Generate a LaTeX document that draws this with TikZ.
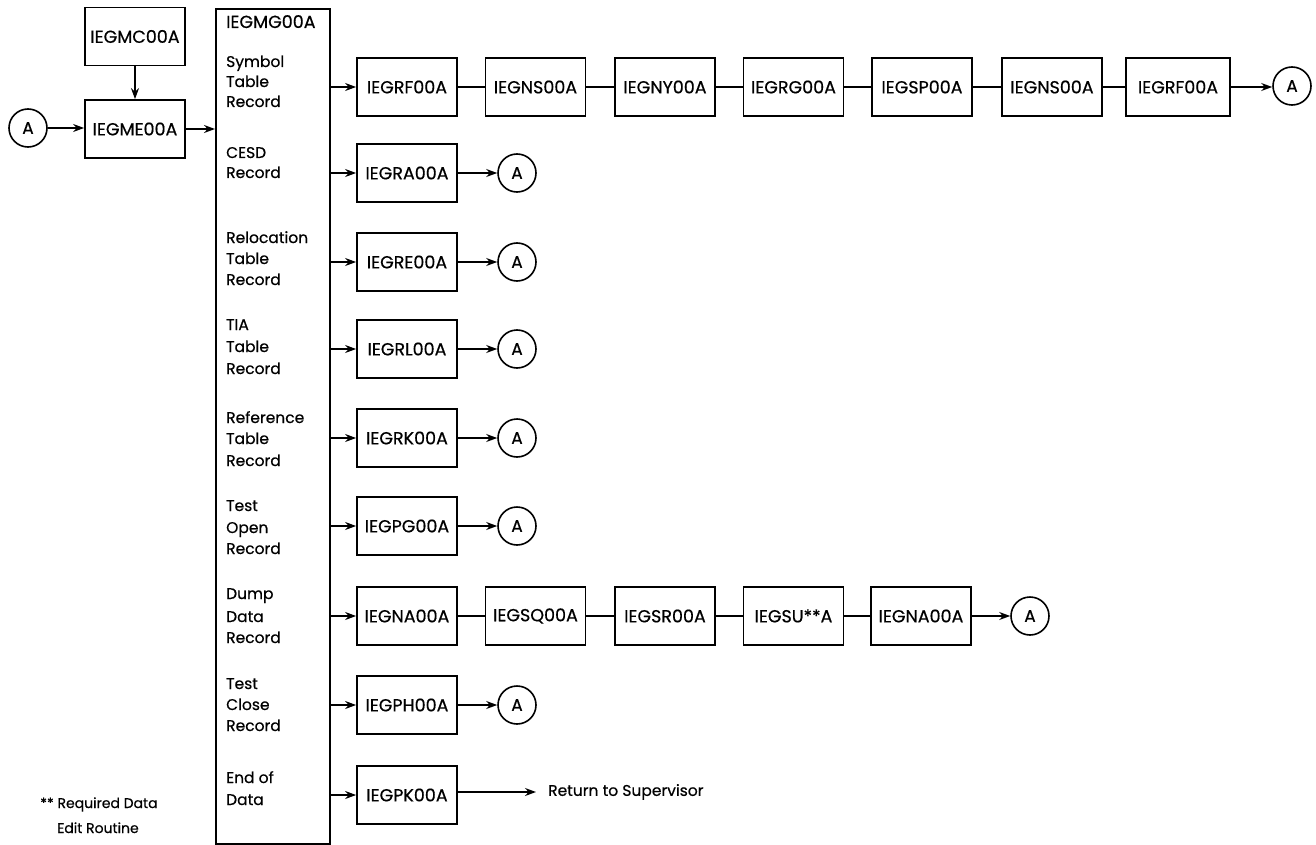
\documentclass[tikz,border=0pt]{standalone}
\usepackage{fontspec}
\setmainfont{Poppins}[FakeBold=0.5,AutoFakeBold=0.5]
\usetikzlibrary{arrows.meta}
\begin{document}
\begin{tikzpicture}[x=1pt,y=-1pt,
  every node/.style={font=\fontsize{15.5}{18}\selectfont},
  blk/.style={draw,line width=1.8pt,minimum width=100pt,minimum height=58pt,inner sep=0pt,
    font=\fontsize{17.5}{20}\selectfont},
  con/.style={draw,circle,line width=1.6pt,minimum size=38pt,inner sep=0pt,
    font=\fontsize{17}{20}\selectfont},
  lbl/.style={anchor=base west,inner sep=0pt},
  arr/.style={line width=1.4pt,-{Stealth[length=11pt,width=8pt]}},
  ln/.style={line width=1.4pt}]
\useasboundingbox (0,0) rectangle (1316,845);

% entry part
\node[con] (ca) at (28,128) {A};
\node[blk] (mc) at (135,36.5) {IEGMC00A};
\node[blk] (me) at (135,129) {IEGME00A};
\node[draw,line width=1.8pt,minimum width=114pt,minimum height=835pt,inner sep=0pt,anchor=north west] (mg) at (215,8) {};
\draw[arr] (mc) -- (me);
\draw[arr] (ca) -- (ca -| me.west);
\draw[arr] (me.east) -- (me.east -| mg.west);

% record type labels inside the dispatcher box
\node[lbl,font=\fontsize{17.5}{20}\selectfont] (mgt) at (226,28) {IEGMG00A};
\node[lbl] (l1a) at (226,67) {Symbol};
\node[lbl] (l1b) at (226,87) {Table};
\node[lbl] (l1c) at (226,107) {Record};
\node[lbl] (l2a) at (226,158) {CESD};
\node[lbl] (l2b) at (226,178) {Record};
\node[lbl] (l3a) at (226,243) {Relocation};
\node[lbl] (l3b) at (226,264) {Table};
\node[lbl] (l3c) at (226,285) {Record};
\node[lbl] (l4a) at (226,330) {TIA};
\node[lbl] (l4b) at (226,352) {Table};
\node[lbl] (l4c) at (226,374) {Record};
\node[lbl] (l5a) at (226,423) {Reference};
\node[lbl] (l5b) at (226,444) {Table};
\node[lbl] (l5c) at (226,466) {Record};
\node[lbl] (l6a) at (226,511) {Test};
\node[lbl] (l6b) at (226,533) {Open};
\node[lbl] (l6c) at (226,554) {Record};
\node[lbl] (l7a) at (226,599) {Dump};
\node[lbl] (l7b) at (226,622) {Data};
\node[lbl] (l7c) at (226,643) {Record};
\node[lbl] (l8a) at (226,689) {Test};
\node[lbl] (l8b) at (226,710) {Close};
\node[lbl] (l8c) at (226,731) {Record};
\node[lbl] (l9a) at (226,783) {End of};
\node[lbl] (l9b) at (226,805) {Data};

% symbol table chain
\node[blk] (r1a) at (407,87) {IEGRF00A};
\node[blk] (r1b) at (535.5,87) {IEGNS00A};
\node[blk] (r1c) at (665,87) {IEGNY00A};
\node[blk] (r1d) at (793.5,87) {IEGRG00A};
\node[blk] (r1e) at (922,87) {IEGSP00A};
\node[blk] (r1f) at (1052,87) {IEGNS00A};
\node[blk,minimum width=104pt] (r1g) at (1178,87) {IEGRF00A};
\node[con] (c1) at (1292,86) {A};
\draw[arr] (mg.east |- r1a) -- (r1a.west);
\draw[ln] (r1a) -- (r1b) -- (r1c) -- (r1d) -- (r1e) -- (r1f) -- (r1g);
\draw[arr] (r1g.east) -- (c1.west |- r1g);

% single-module records
\node[blk] (r2) at (407,173) {IEGRA00A};
\node[con] (c2) at (517,173) {A};
\node[blk] (r3) at (407,262) {IEGRE00A};
\node[con] (c3) at (517,262) {A};
\node[blk] (r4) at (407,349) {IEGRL00A};
\node[con] (c4) at (517,349) {A};
\node[blk] (r5) at (407,438) {IEGRK00A};
\node[con] (c5) at (517,438) {A};
\node[blk] (r6) at (407,526) {IEGPG00A};
\node[con] (c6) at (517,526) {A};
\node[blk] (r8) at (407,705) {IEGPH00A};
\node[con] (c8) at (517,705) {A};
\foreach \r/\c in {r2/c2,r3/c3,r4/c4,r5/c5,r6/c6,r8/c8}{
  \draw[arr] (mg.east |- \r) -- (\r.west);
  \draw[arr] (\r.east) -- (\c.west);
}

% dump data chain
\node[blk] (r7a) at (407,616) {IEGNA00A};
\node[blk] (r7b) at (535.5,616) {IEGSQ00A};
\node[blk] (r7c) at (665,616) {IEGSR00A};
\node[blk] (r7d) at (793.5,616) {IEGSU**A};
\node[blk] (r7e) at (921,616) {IEGNA00A};
\node[con] (c7) at (1030,616) {A};
\draw[arr] (mg.east |- r7a) -- (r7a.west);
\draw[ln] (r7a) -- (r7b) -- (r7c) -- (r7d) -- (r7e);
\draw[arr] (r7e.east) -- (c7.west);

% end of data
\node[blk] (r9) at (407,795) {IEGPK00A};
\node[anchor=west,inner sep=0pt] (ret) at (548,792) {Return to Supervisor};
\draw[arr] (mg.east |- r9) -- (r9.west);
\draw[arr] (r9.east |- ret) -- ([xshift=-12pt]ret.west);

% footnote
\node[lbl,font=\fontsize{14}{16}\selectfont] (fn1) at (40,808) {**\ Required Data};
\node[lbl,font=\fontsize{14}{16}\selectfont] (fn2) at (57,833) {Edit Routine};
\end{tikzpicture}
\end{document}
